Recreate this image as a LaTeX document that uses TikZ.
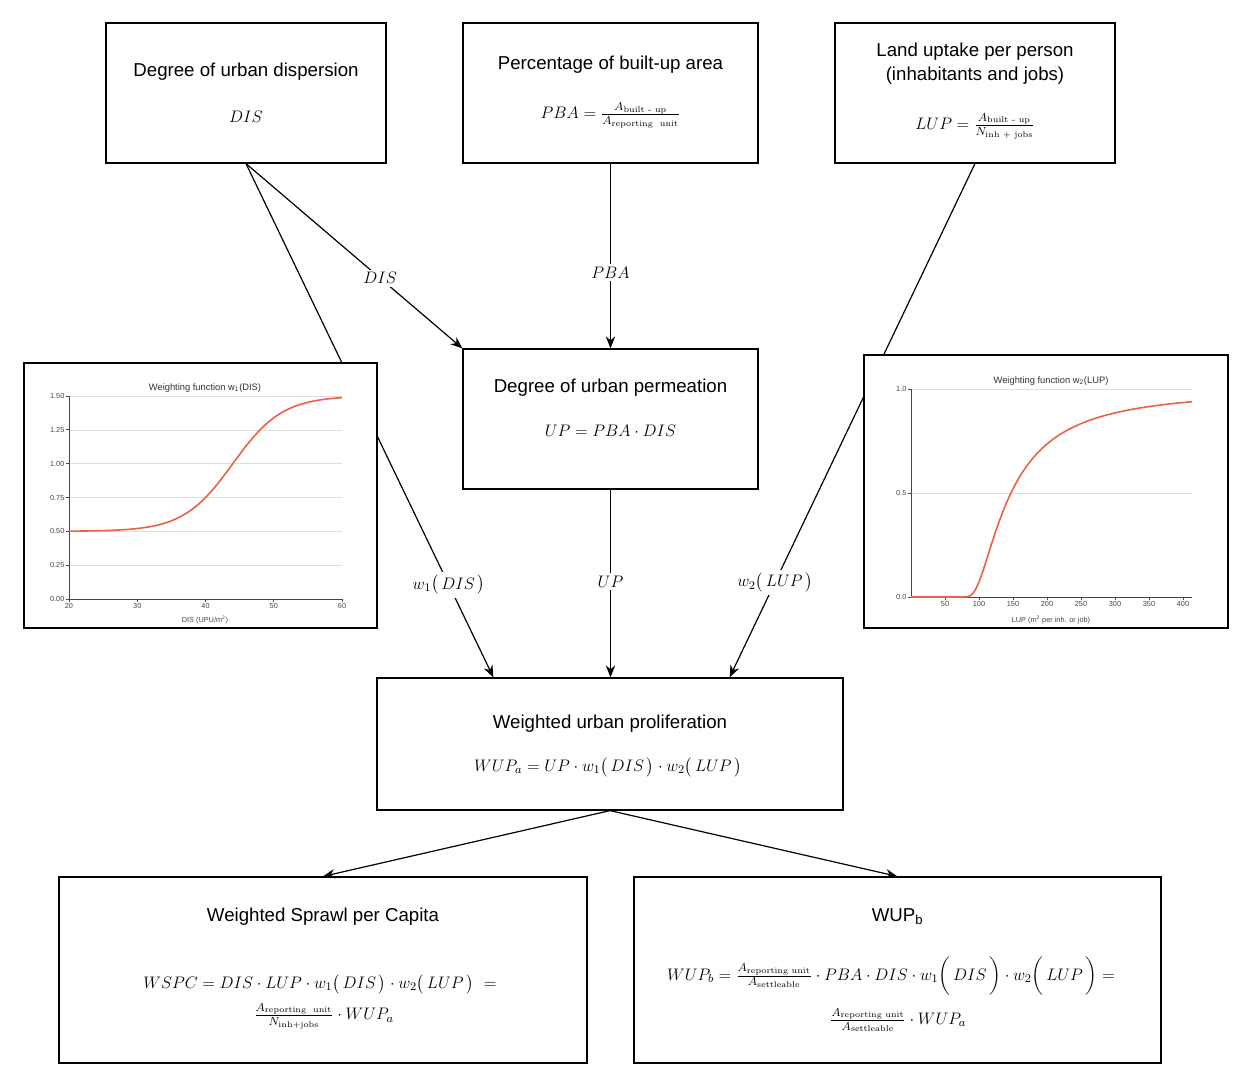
\RequirePackage{fix-cm}
\documentclass[tikz,border=0pt]{standalone}
\usepackage{amsmath}
\usepackage{fontspec}
\newfontfamily\arial{Liberation Sans}
\usetikzlibrary{arrows.meta}
\definecolor{curvec}{RGB}{236,98,72}
\definecolor{axisc}{RGB}{70,70,70}
\definecolor{gridc}{RGB}{222,222,222}
\begin{document}
\begin{tikzpicture}[x=0.75pt,y=-0.75pt,
  box/.style={draw, line width=0.9pt, inner sep=0pt, fill=white},
  ttl/.style={font=\arial\fontsize{14}{18}\selectfont, align=center, inner sep=0pt},
  fml/.style={font=\fontsize{12.5}{15}\selectfont, inner sep=0pt},
  lbl/.style={fill=white, inner sep=2pt, font=\fontsize{12.5}{15}\selectfont},
  conn/.style={line width=0.9pt, -{Stealth[length=9pt,width=7pt]}},
  tickl/.style={font=\arial\fontsize{5.5}{6.5}\selectfont, text=axisc, inner sep=1pt},
  ctitle/.style={font=\arial\fontsize{7}{8}\selectfont, text=black!80, inner sep=0pt},
  axisl/.style={draw=axisc, line width=0.6pt},
  gridl/.style={draw=gridc, line width=0.4pt},
  curvel/.style={draw=curvec, line width=1.2pt}]
\useasboundingbox (0,0) rectangle (1260,1082);
% boxes
\node[box, minimum width=210pt, minimum height=105pt] (A) at (246,93) {};
\node[ttl] (At) at (246,72) {Degree of urban dispersion};
\node[fml] (Af) at (246,117) {$DIS$};
\node[box, minimum width=221.25pt, minimum height=105pt] (B) at (610.5,93) {};
\node[ttl] (Bt) at (610.5,65) {Percentage of built-up area};
\node[fml] (Bf) at (610.5,115) {$PBA=\frac{A_{\text{built - up}}}{A_{\text{reporting\ \ unit}}}$};
\node[box, minimum width=210pt, minimum height=105pt] (C) at (975,93) {};
\node[ttl] (Ct) at (975,64) {Land uptake per person\\(inhabitants and jobs)};
\node[fml] (Cf) at (975,126) {$LUP=\frac{A_{\text{built - up}}}{N_{\text{inh + jobs}}}$};
\node[box, minimum width=221.25pt, minimum height=105pt] (D) at (610.5,419) {};
\node[ttl] (Dt) at (610.5,388) {Degree of urban permeation};
\node[fml] (Df) at (610.5,431) {$UP=PBA\cdot DIS$};
\node[box, minimum width=349.5pt, minimum height=99pt] (E) at (610,744) {};
\node[ttl] (Et) at (610,724) {Weighted urban proliferation};
\node[fml] (Ef) at (608,767) {$WUP_a=UP\cdot w_1\bigl(\,DIS\,\bigr)\cdot w_2\bigl(\,LUP\,\bigr)$};
\node[box, minimum width=396pt, minimum height=139.5pt] (F) at (323,970) {};
\node[ttl] (Ft) at (323,917) {Weighted Sprawl per Capita};
\node[fml] (Ff1) at (320,984) {$WSPC=DIS\cdot LUP\cdot w_1\bigl(\,DIS\,\bigr)\cdot w_2\bigl(\,LUP\,\bigr)\ =$};
\node[fml] (Ff2) at (324,1016) {$\frac{A_{\text{reporting\ \ unit}}}{N_{\text{inh+jobs}}}\cdot WUP_a$};
\node[box, minimum width=395.25pt, minimum height=139.5pt] (G) at (897.5,970) {};
\node[ttl] (Gt) at (897.5,917) {WUP\textsubscript{b}};
\node[fml] (Gf1) at (891,976) {$WUP_b=\frac{A_{\text{reporting unit}}}{A_{\text{settleable}}}\cdot PBA\cdot DIS\cdot w_1\biggl(\,DIS\,\biggr)\cdot w_2\biggl(\,LUP\,\biggr)=$};
\node[fml] (Gf2) at (898,1020) {$\frac{A_{\text{reporting unit}}}{A_{\text{settleable}}}\cdot WUP_a$};
% connectors
\draw[conn] (A.south) -- node[lbl, pos=0.62] (lDIS) {$DIS$} (D.north west);
\draw[conn] (A.south) -- node[lbl, pos=0.82] (lw1) {$w_1\bigl(\,DIS\,\bigr)$} ([xshift=87.75pt]E.north west);
\draw[conn] (B.south) -- node[lbl, pos=0.59] (lPBA) {$PBA$} (D.north);
\draw[conn] (D.south) -- node[lbl, pos=0.49] (lUP) {$UP$} (D.south |- E.north);
\draw[conn] (C.south) -- node[lbl, pos=0.815] (lw2) {$w_2\bigl(\,LUP\,\bigr)$} ([xshift=-85.5pt]E.north east);
\draw[conn] (E.south) -- (F.north);
\draw[conn] (E.south) -- (G.north);
% left chart
\node[box, minimum width=264.75pt, minimum height=198.75pt] (chL) at (200.5,495.5) {};
\foreach \v in {0.25,0.5,0.75,1.0,1.25,1.5}
  \draw[gridl] (69,{599-135.33*\v}) -- (342,{599-135.33*\v});
\foreach \v/\t in {0/0.00,0.25/0.25,0.5/0.50,0.75/0.75,1.0/1.00,1.25/1.25,1.5/1.50} {
  \draw[axisl] (66,{599-135.33*\v}) -- (69,{599-135.33*\v});
  \node[tickl, anchor=east] (yl\t) at (66,{599-135.33*\v}) {\t};
}
\foreach \d in {20,30,40,50,60} {
  \draw[axisl] ({69+(\d-20)*6.825},599) -- ({69+(\d-20)*6.825},602);
  \node[tickl, anchor=north] (xl\d) at ({69+(\d-20)*6.825},602) {\d};
}
\draw[axisl] (69,396) -- (69,599) -- (342,599);
\draw[curvel] plot[domain=20:60, samples=90, smooth] ({69+(\x-20)*6.825},{599-135.33*(0.5+1/(1+exp(-0.2747*(\x-44))))});
\node[ctitle] (chLt) at (205,388) {Weighting function w\textsubscript{1}(DIS)};
\node[tickl] (chLx) at (205,620) {DIS (UPU/m\textsuperscript{2})};
% right chart
\node[box, minimum width=273pt, minimum height=204.75pt] (chR) at (1046,491.5) {};
\foreach \v in {0.5,1.0}
  \draw[gridl] (911,{597-208*\v}) -- (1192,{597-208*\v});
\foreach \v in {0.0,0.5,1.0} {
  \draw[axisl] (908,{597-208*\v}) -- (911,{597-208*\v});
  \node[tickl, anchor=east] (ry\v) at (908,{597-208*\v}) {\v};
}
\foreach \d in {50,100,...,400} {
  \draw[axisl] ({911+\d*0.68},597) -- ({911+\d*0.68},600);
  \node[tickl, anchor=north] (rx\d) at ({911+\d*0.68},600) {\d};
}
\draw[axisl] (911,389) -- (911,597) -- (1192,597);
\draw[curvel] (911,597) -- ({911+72*0.68},597) -- plot[domain=72:413, samples=140, smooth] ({911+\x*0.68},{597-208*exp(-(70.2/(\x-60))^1.71)});
\node[ctitle] (chRt) at (1051,381) {Weighting function w\textsubscript{2}(LUP)};
\node[tickl] (chRx) at (1051,620) {LUP (m\textsuperscript{2} per inh. or job)};
\end{tikzpicture}
\end{document}
